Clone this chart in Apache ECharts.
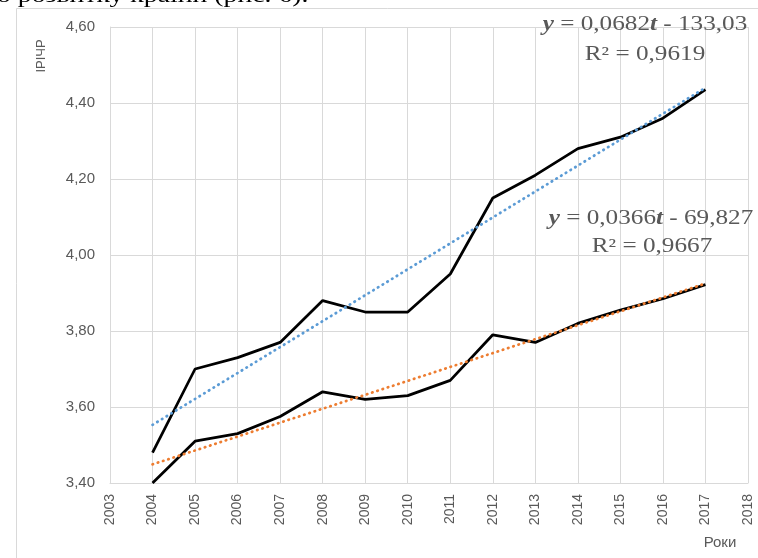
<!DOCTYPE html>
<html>
<head>
<meta charset="utf-8">
<script src="https://cdn.jsdelivr.net/npm/echarts@6/dist/echarts.min.js"></script>
<style>
html,body{margin:0;padding:0;background:#fff;}
#chart{width:758px;height:558px;}
</style>
</head>
<body>
<div id="chart"></div>
<script>
// Data
var years = [2004, 2005, 2006, 2007, 2008, 2009, 2010, 2011, 2012, 2013, 2014, 2015, 2016, 2017];
var upperValues = [3.48, 3.70, 3.73, 3.77, 3.88, 3.85, 3.85, 3.95, 4.15, 4.21, 4.28, 4.31, 4.36, 4.435];
var lowerValues = [3.40, 3.51, 3.53, 3.575, 3.64, 3.62, 3.63, 3.67, 3.79, 3.77, 3.82, 3.855, 3.885, 3.922];
// Trend line endpoints (2004 and 2017)
var trendYears = [2004, 2017];
var upperTrend = [3.553, 4.440];
var lowerTrend = [3.449, 3.925];
var eqUpper = ['{b|y} = 0,0682{b|t} - 133,03', 'R² = 0,9619'];
var eqLower = ['{b|y} = 0,0366{b|t} - 69,827', 'R² = 0,9667'];
var xName = 'Роки';
var yName = 'ІРІЧР';
var docText = 'о розвитку країни (рис. 6).';

function pairs(xs, ys) { return xs.map(function (x, i) { return [x, ys[i]]; }); }

var chart = echarts.init(document.getElementById('chart'), null, {renderer: 'canvas'});
var gray = '#595959';
var gridColor = '#d9d9d9';
var serif = '"Liberation Serif", "Times New Roman", serif';
var sans = '"Liberation Sans", Arial, sans-serif';

function eqText(txt, x, y) {
  return {
    type: 'text', x: x, y: y, scaleX: 1.26, z: 100,
    style: {
      text: txt, fontFamily: serif, fontSize: 20, fill: gray,
      align: 'center', verticalAlign: 'middle',
      rich: {b: {fontFamily: serif, fontSize: 20, fontWeight: 'bold', fontStyle: 'italic', fill: gray}}
    }
  };
}

chart.setOption({
  animation: false,
  backgroundColor: '#fff',
  grid: {left: 110, top: 27, right: 10, bottom: 75, containLabel: false},
  xAxis: {
    type: 'value', min: 2003, max: 2018, interval: 1,
    axisLine: {show: true, lineStyle: {color: gridColor, width: 1}},
    axisTick: {show: false},
    splitLine: {show: true, lineStyle: {color: gridColor, width: 1}},
    axisLabel: {rotate: 90, margin: 11, color: gray, fontFamily: sans, fontSize: 14,
      formatter: function (v) { return String(v); }}
  },
  yAxis: {
    type: 'value', min: 3.4, max: 4.6, interval: 0.2,
    axisLine: {show: true, lineStyle: {color: gridColor, width: 1}},
    axisTick: {show: false},
    splitLine: {show: true, lineStyle: {color: gridColor, width: 1}},
    axisLabel: {margin: 15, color: gray, fontFamily: sans, fontSize: 15,
      formatter: function (v) { return v.toFixed(2).replace('.', ','); }}
  },
  series: [
    {type: 'line', data: pairs(years, upperValues), showSymbol: false, symbol: 'none',
      lineStyle: {color: '#000', width: 2.75}, z: 2},
    {type: 'line', data: pairs(years, lowerValues), showSymbol: false, symbol: 'none',
      lineStyle: {color: '#000', width: 2.75}, z: 2},
    {type: 'line', data: pairs(trendYears, upperTrend), showSymbol: false, symbol: 'none',
      lineStyle: {color: '#5B9BD5', width: 2.75, type: [0.5, 5], cap: 'round'}, z: 3},
    {type: 'line', data: pairs(trendYears, lowerTrend), showSymbol: false, symbol: 'none',
      lineStyle: {color: '#ED7D31', width: 2.75, type: [0.5, 5], cap: 'round'}, z: 3}
  ],
  graphic: [
    {type: 'rect', shape: {x: 16.5, y: 8.5, width: 760, height: 600}, z: -1,
      style: {fill: 'none', stroke: gridColor, lineWidth: 1}},
    {type: 'text', x: -3, y: 7, scaleX: 1.26, z: 100,
      style: {text: docText, fontFamily: serif, fontSize: 22, fill: '#000', align: 'left', verticalAlign: 'bottom'}},
    {type: 'text', x: 41, y: 56, rotation: Math.PI / 2, z: 100,
      style: {text: yName, fontFamily: sans, fontSize: 13, fill: gray, align: 'center', verticalAlign: 'middle'}},
    {type: 'text', x: 720, y: 543, z: 100,
      style: {text: xName, fontFamily: sans, fontSize: 15, fill: gray, align: 'center', verticalAlign: 'middle'}},
    eqText(eqUpper[0], 645, 25),
    eqText(eqUpper[1], 645, 55),
    eqText(eqLower[0], 651, 219),
    eqText(eqLower[1], 652, 247)
  ]
});
</script>
</body>
</html>
